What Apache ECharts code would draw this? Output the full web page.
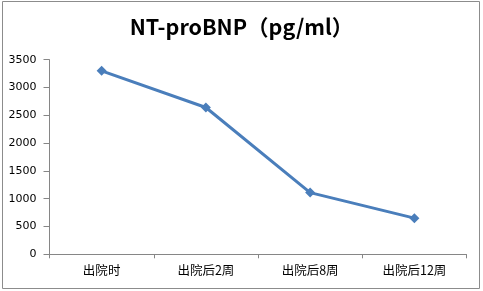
<!DOCTYPE html>
<html>
<head>
<meta charset="utf-8">
<script src="https://cdn.jsdelivr.net/npm/echarts@6/dist/echarts.min.js"></script>
<style>
  html, body { margin: 0; padding: 0; background: #fff; }
  #chart { width: 483px; height: 291px; }
</style>
</head>
<body>
<div id="chart"></div>
<script>
const categories = ['出院时', '出院后2周', '出院后8周', '出院后12周']
const values = [3300, 2640, 1110, 650]
const yTicks = { min: 0, max: 3500, interval: 500 }

const chart = echarts.init(document.getElementById('chart'))

const option = {
  animation: false,
  backgroundColor: '#fff',
  title: {
    text: 'NT-proBNP（pg/ml）',
    left: 'center',
    top: 11,
    textStyle: {
      fontFamily: 'Noto Sans CJK SC',
      fontWeight: 'bold',
      fontSize: 21.5,
      color: '#000'
    }
  },
  graphic: [
    {
      type: 'rect',
      shape: { x: 2.5, y: 1.5, width: 477, height: 287 },
      style: { fill: 'none', stroke: '#8c8c8c', lineWidth: 1 }
    }
  ],
  grid: {
    left: 49.5,
    right: 16.5,
    top: 59.7,
    bottom: 36.7
  },
  xAxis: {
    type: 'category',
    data: categories,
    boundaryGap: true,
    axisLine: { lineStyle: { color: '#868686' } },
    axisTick: { show: true, length: 4, lineStyle: { color: '#868686' } },
    axisLabel: {
      color: '#000',
      fontSize: 12.5,
      fontFamily: 'Noto Sans CJK SC',
      margin: 10
    }
  },
  yAxis: {
    type: 'value',
    min: yTicks.min,
    max: yTicks.max,
    interval: yTicks.interval,
    axisLine: { show: true, lineStyle: { color: '#868686' } },
    axisTick: { show: true, length: 6, lineStyle: { color: '#868686' } },
    splitLine: { show: false },
    axisLabel: {
      color: '#000',
      fontSize: 11,
      fontFamily: 'DejaVu Sans',
      margin: 13,
      formatter: v => String(v)
    }
  },
  series: [
    {
      type: 'line',
      data: values,
      symbol: 'diamond',
      symbolSize: 10,
      lineStyle: { color: '#4a7ebb', width: 3 },
      itemStyle: { color: '#4a7ebb' }
    }
  ]
}

chart.setOption(option)
</script>
</body>
</html>
